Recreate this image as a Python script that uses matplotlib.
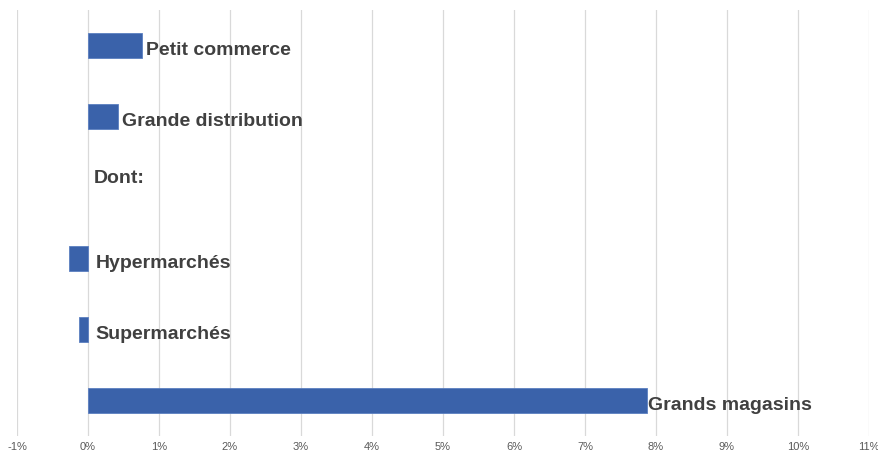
import matplotlib.pyplot as plt
import numpy as np

# categories top to bottom, values in percent
categories = ['Petit commerce', 'Grande distribution', 'Dont:',
              'Hypermarchés', 'Supermarchés', 'Grands magasins']
values = [0.76, 0.42, 0.0, -0.27, -0.13, 7.87]
ticks = list(range(-1, 12))
tick_labels = [str(t) + '%' for t in ticks]

plt.rcParams['font.family'] = ['Liberation Sans', 'DejaVu Sans']

fig = plt.figure(figsize=(8.79, 4.55), dpi=100)
ax = fig.add_axes([17 / 879, 19 / 455, 852 / 879, 426 / 455])

y = np.arange(len(categories))
for i, v in enumerate(values):
    if categories[i] == 'Dont:':
        continue
    ax.barh(y[i], v, height=0.36, color='#3A62AA', edgecolor='#5B7FC0',
            linewidth=0.6, zorder=3)

for i, (c, v) in enumerate(zip(categories, values)):
    if c == 'Dont:':
        ax.text(0.08, y[i] - 0.13, c, fontsize=14, fontweight='bold',
                color='#404040', va='center', ha='left', zorder=4)
    else:
        if v > 5:
            x0 = v + 0.02
        elif v > 0:
            x0 = v + 0.06
        else:
            x0 = 0.11
        ax.text(x0, y[i] + 0.07, c, fontsize=14, fontweight='bold',
                color='#404040', va='center', ha='left', zorder=4)

ax.set_xlim(-1, 11)
ax.set_ylim(len(categories) - 0.5, -0.5)
ax.set_xticks(ticks)
ax.set_xticklabels(tick_labels)
ax.set_yticks([])
ax.tick_params(axis='x', length=0, labelsize=8, labelcolor='#595959', pad=4)
ax.grid(axis='x', color='#D9D9D9', linewidth=0.9, zorder=0)
for s in ax.spines.values():
    s.set_visible(False)

fig.savefig('out.png', dpi=100)
